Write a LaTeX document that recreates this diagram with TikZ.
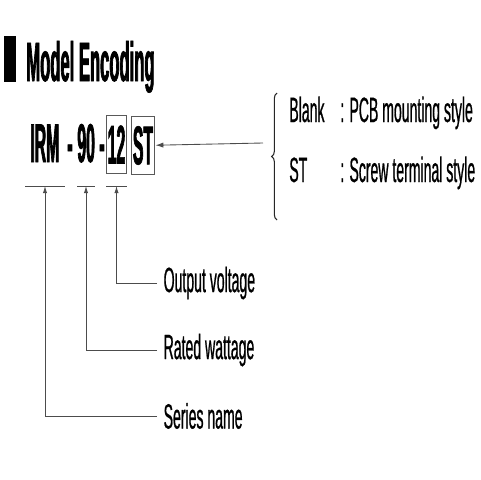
\documentclass[tikz,border=0pt]{standalone}
\usepackage{fontspec}
\setmainfont{Liberation Sans}
\newfontfamily\condfont[FakeStretch=0.4, FakeBold=0.6]{Liberation Sans}
\newfontfamily\condboldfont[FakeStretch=0.29, FakeBold=1.2]{Liberation Sans}
\newfontfamily\titelfont[FakeStretch=0.3, FakeBold=1.2]{Liberation Sans}
\usetikzlibrary{arrows.meta, decorations.pathreplacing}

\tikzset{
  titel/.style={anchor=base west, inner sep=0, font=\titelfont\bfseries\fontsize{31.5}{34}\selectfont},
  code/.style={anchor=base west, inner sep=0, font=\condboldfont\bfseries\fontsize{31}{34}\selectfont},
  codebox/.style={code, anchor=center, draw=black!65, line width=0.6pt, minimum width=11.6pt, minimum height=33pt},
  lbl/.style={anchor=west, inner xsep=3.6pt, inner ysep=0, font=\condfont\fontsize{20}{22}\selectfont},
  opt/.style={anchor=base west, inner sep=0, font=\condfont\fontsize{20}{22}\selectfont},
  linie/.style={draw=black!70, line width=0.5pt},
  pfeil/.style={linie, -{Latex[length=4pt, width=2.4pt]}}
}

\begin{document}
\begin{tikzpicture}[x=0.02cm, y=-0.02cm]
        \useasboundingbox (0,0) rectangle (480,480);

        %Titel
        \fill (4,36) rectangle (16,82);
        \node[titel] (titel) at (26,81) {Model Encoding};

        %Typenbezeichnung
        \node[code] (irm) at (30,162) {IRM};
        \node[code] (strich1) at (67,162) {-};
        \node[code] (w90) at (77,162) {90};
        \node[code] (strich2) at (99,162) {-};
        \node[codebox] (v12) at (116.5,144.5) {12};
        \node[codebox, minimum width=13.6pt] (st) at (143,145.5) {ST};

        %Unterstriche
        \draw[linie] (25,186) -- (65,186);
        \draw[linie] (77,186) -- (95,186);
        \draw[linie] (106,186) -- (127,186);
        \coordinate (uirm) at (45,186);
        \coordinate (u90) at (86,186);
        \coordinate (u12) at (116.5,186);

        %Legende unten
        \node[lbl] (lout) at (157,283) {Output voltage};
        \node[lbl] (lrated) at (157,350) {Rated wattage};
        \node[lbl] (lseries) at (157,416) {Series name};

        \draw[pfeil] (lout.west) -| (u12);
        \draw[pfeil] (lrated.west) -| (u90);
        \draw[pfeil] (lseries.west) -| (uirm);

        %Optionen
        \coordinate (pstart) at (263,143);
        \draw[linie, -{Latex[length=4.5pt, width=3pt]}] (pstart) -- (st);
        \draw[draw=black!85, line width=0.6pt, decorate, decoration={brace, amplitude=3pt}] (277,220) -- (277,93);

        \node[opt] (blank) at (289,122) {Blank};
        \node[opt] (pcb) at (340,122) {: PCB mounting style};
        \node[opt] (stopt) at (289,182) {ST};
        \node[opt] (screw) at (340,182) {: Screw terminal style};
\end{tikzpicture}
\end{document}
